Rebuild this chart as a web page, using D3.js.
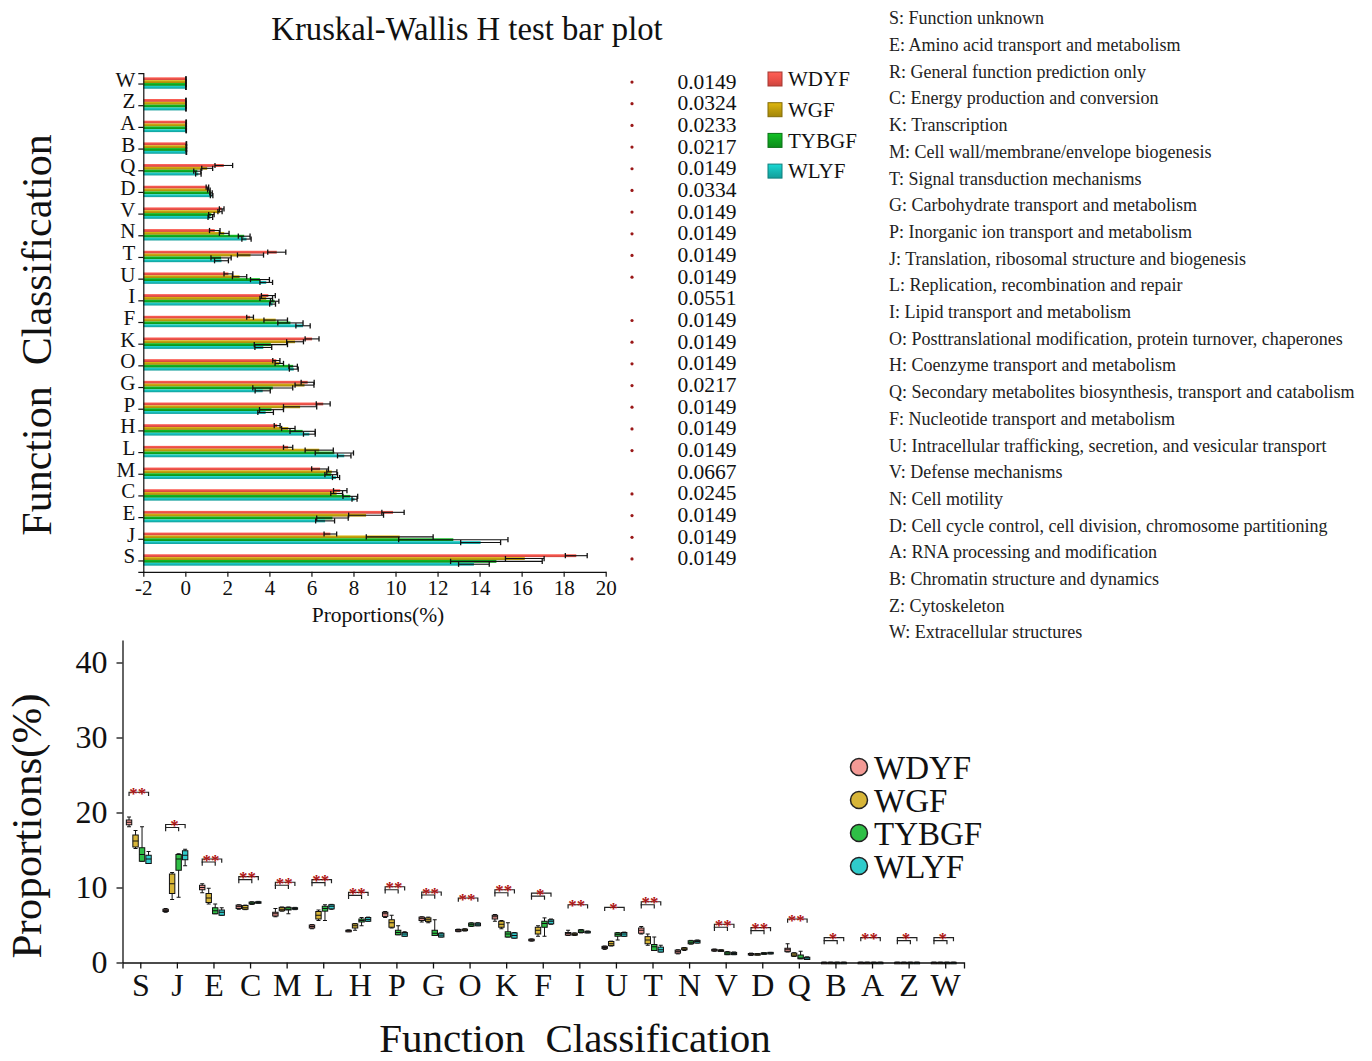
<!DOCTYPE html>
<html>
<head>
<meta charset="utf-8">
<script src="https://cdn.jsdelivr.net/npm/d3@7"></script>
<style>
  body { margin: 0; background: #fff; }
  svg { display: block; font-family: "Liberation Serif", "Times New Roman", serif; }
</style>
</head>
<body>
<svg id="chart" width="1372" height="1061"></svg>
<script>
// ---------- data ----------
const groups = ["WDYF", "WGF", "TYBGF", "WLYF"];

// Kruskal-Wallis bar plot (categories listed top to bottom)
const barCategories = ["W","Z","A","B","Q","D","V","N","T","U","I","F","K","O","G","P","H","L","M","C","E","J","S"];
const meanWDYF  = [0.03,0.03,0.04,0.05,1.83,1.05,1.73,1.40,4.35,2.05,3.95,3.08,6.03,4.33,5.82,6.56,4.37,4.89,6.41,7.37,9.88,6.90,18.60];
const meanWGF   = [0.03,0.03,0.04,0.05,1.04,1.12,1.65,1.85,3.10,2.58,3.85,4.30,5.22,4.47,5.67,5.46,4.90,6.37,6.97,7.20,8.60,10.20,16.15];
const meanTYBGF = [0.03,0.03,0.04,0.05,0.57,1.22,1.24,2.80,1.70,3.55,4.25,5.00,4.07,5.13,4.16,4.10,5.58,7.09,6.94,7.85,7.00,12.75,14.80];
const meanWLYF  = [0.03,0.03,0.04,0.05,0.62,1.25,1.19,2.91,1.72,3.85,4.15,5.60,3.71,5.16,3.68,3.82,5.90,7.56,7.17,8.05,6.65,14.05,13.73];
const sdWDYF    = [0.01,0.01,0.01,0.01,0.42,0.06,0.11,0.25,0.43,0.21,0.33,0.16,0.33,0.17,0.31,0.33,0.14,0.22,0.40,0.32,0.53,0.30,0.52];
const sdWGF     = [0.01,0.01,0.01,0.01,0.26,0.06,0.10,0.23,0.62,0.34,0.30,0.56,0.40,0.20,0.45,0.79,0.32,0.67,0.24,0.28,0.83,1.59,0.92];
const sdTYBGF   = [0.01,0.01,0.01,0.01,0.17,0.06,0.13,0.28,0.48,0.45,0.20,0.60,0.79,0.20,0.95,0.57,0.60,0.91,0.30,0.35,0.75,2.60,2.18];
const sdWLYF    = [0.01,0.01,0.01,0.01,0.13,0.06,0.11,0.22,0.33,0.30,0.14,0.34,0.40,0.21,0.36,0.37,0.28,0.32,0.17,0.12,0.45,0.95,0.73];
const pValues   = [0.0149,0.0324,0.0233,0.0217,0.0149,0.0334,0.0149,0.0149,0.0149,0.0149,0.0551,0.0149,0.0149,0.0149,0.0217,0.0149,0.0149,0.0149,0.0667,0.0245,0.0149,0.0149,0.0149];
const barTicks  = [-2,0,2,4,6,8,10,12,14,16,18,20];

// COG function descriptions
const cogDescriptions = [
  "S: Function unknown",
  "E: Amino acid transport and metabolism",
  "R: General function prediction only",
  "C: Energy production and conversion",
  "K: Transcription",
  "M: Cell wall/membrane/envelope biogenesis",
  "T: Signal transduction mechanisms",
  "G: Carbohydrate transport and metabolism",
  "P: Inorganic ion transport and metabolism",
  "J: Translation, ribosomal structure and biogenesis",
  "L: Replication, recombination and repair",
  "I: Lipid transport and metabolism",
  "O: Posttranslational modification, protein turnover, chaperones",
  "H: Coenzyme transport and metabolism",
  "Q: Secondary metabolites biosynthesis, transport and catabolism",
  "F: Nucleotide transport and metabolism",
  "U: Intracellular trafficking, secretion, and vesicular transport",
  "V: Defense mechanisms",
  "N: Cell motility",
  "D: Cell cycle control, cell division, chromosome partitioning",
  "A: RNA processing and modification",
  "B: Chromatin structure and dynamics",
  "Z: Cytoskeleton",
  "W: Extracellular structures"
];

// Box plot statistics: [min, q1, median, q3, max]
const boxCategories = ["S","J","E","C","M","L","H","P","G","O","K","F","I","U","T","N","V","D","Q","B","A","Z","W"];
const boxWDYF = [
  [18.1,18.36,18.7,19.0,19.4],[6.7,6.8,6.95,7.1,7.2],[9.3,9.7,10.0,10.3,10.5],[7.1,7.2,7.45,7.65,7.7],
  [6.1,6.2,6.5,6.7,7.2],[4.5,4.6,4.8,5.0,5.05],[4.1,4.15,4.25,4.3,4.35],[6.0,6.15,6.5,6.7,6.8],
  [5.4,5.6,5.85,6.05,6.1],[4.1,4.15,4.3,4.4,4.45],[5.5,5.8,6.1,6.3,6.4],[2.85,2.9,3.0,3.1,3.15],
  [3.6,3.65,3.85,4.0,4.3],[1.75,1.85,2.0,2.15,2.2],[3.8,3.9,4.3,4.6,4.8],[1.15,1.25,1.45,1.65,1.7],
  [1.5,1.55,1.65,1.75,1.8],[0.95,1.0,1.1,1.2,1.25],[1.4,1.45,1.7,1.9,2.5],[0.01,0.015,0.02,0.025,0.03],
  [0.01,0.015,0.02,0.025,0.03],[0.01,0.015,0.02,0.025,0.03],[0.01,0.015,0.02,0.025,0.03]
];
const boxWGF = [
  [15.2,15.4,16.2,17.0,17.6],[8.4,9.2,10.5,11.8,12.0],[7.8,8.0,8.6,9.2,9.9],[7.05,7.1,7.3,7.6,7.65],
  [6.85,6.9,7.1,7.35,7.4],[5.6,5.8,6.3,6.8,7.0],[4.3,4.6,4.9,5.15,5.2],[4.6,4.7,5.3,5.7,6.3],
  [5.3,5.45,5.7,5.95,6.05],[4.2,4.25,4.35,4.45,4.5],[4.5,4.7,5.1,5.5,5.6],[3.5,3.8,4.3,4.7,4.9],
  [3.6,3.65,3.75,3.9,3.95],[2.2,2.25,2.5,2.8,2.85],[2.3,2.5,3.0,3.45,3.8],[1.6,1.7,1.8,1.95,2.0],
  [1.5,1.52,1.6,1.68,1.7],[1.0,1.02,1.1,1.18,1.2],[0.8,0.85,1.0,1.25,1.3],[0.01,0.015,0.02,0.025,0.03],
  [0.01,0.015,0.02,0.025,0.03],[0.01,0.015,0.02,0.025,0.03],[0.01,0.015,0.02,0.025,0.03]
];
const boxTYBGF = [
  [13.5,13.5,14.4,15.3,18.1],[8.7,12.3,13.8,14.4,14.5],[6.5,6.5,6.9,7.3,7.8],[7.75,7.8,7.9,8.05,8.1],
  [6.5,7.0,7.1,7.35,7.4],[5.6,6.85,7.2,7.5,7.7],[4.9,5.4,5.6,5.8,6.0],[3.7,3.7,4.0,4.3,4.9],
  [3.6,3.6,3.9,4.3,5.7],[4.8,4.85,5.05,5.25,5.3],[3.4,3.4,3.8,4.1,5.3],[3.5,4.7,5.2,5.5,5.95],
  [3.95,4.0,4.2,4.35,4.4],[3.0,3.5,3.75,3.95,4.0],[1.6,1.6,2.1,2.4,3.4],[2.45,2.5,2.7,2.9,2.95],
  [1.05,1.05,1.25,1.4,1.45],[1.1,1.1,1.2,1.3,1.3],[0.5,0.5,0.6,1.0,1.5],[0.01,0.015,0.02,0.025,0.03],
  [0.01,0.015,0.02,0.025,0.03],[0.01,0.015,0.02,0.025,0.03],[0.01,0.015,0.02,0.025,0.03]
];
const boxWLYF = [
  [13.2,13.2,13.8,14.3,14.8],[12.9,13.7,14.3,14.9,15.1],[6.3,6.3,6.7,7.0,7.3],[7.9,7.9,8.0,8.1,8.15],
  [7.05,7.1,7.2,7.3,7.35],[7.1,7.15,7.5,7.7,7.75],[5.5,5.5,5.75,6.0,6.05],[3.5,3.5,3.8,4.0,4.1],
  [3.4,3.4,3.65,3.9,3.95],[4.9,4.9,5.1,5.25,5.3],[3.25,3.25,3.6,3.95,4.0],[5.1,5.15,5.5,5.7,5.8],
  [3.95,3.95,4.05,4.15,4.2],[3.5,3.5,3.8,4.0,4.05],[1.4,1.4,1.7,2.05,2.3],[2.6,2.6,2.8,2.95,3.0],
  [1.05,1.05,1.2,1.35,1.4],[1.15,1.15,1.25,1.35,1.35],[0.4,0.4,0.6,0.7,0.75],[0.01,0.015,0.02,0.025,0.03],
  [0.01,0.015,0.02,0.025,0.03],[0.01,0.015,0.02,0.025,0.03],[0.01,0.015,0.02,0.025,0.03]
];
// significance marks and bracket style per category ("double" = with nested pair bracket)
const sigStars    = ["**","*","**","**","**","**","**","**","**","**","**","*","**","*","**","","**","**","**","*","**","*","*"];
const bracketKind = ["single","double","double","double","double","double","double","double","double","single","double","double","single","single","double","none","double","double","single","double","single","double","double"];
const boxTicks = [0,10,20,30,40];

// ---------- drawing ----------
const svg = d3.select("#chart");
const defs = svg.append("defs");
const INK = "#111";

const barColors = { WDYF: "#ea5048", WGF: "#bb9a0c", TYBGF: "#0fa31f", WLYF: "#16b6b2" };
const boxColors = { WDYF: "#f39a95", WGF: "#d7b538", TYBGF: "#2fbf46", WLYF: "#30cbcb" };

groups.forEach(g => {
  const base = d3.color(barColors[g]);
  const grad = defs.append("linearGradient")
    .attr("id", "grad-" + g).attr("x1", 0).attr("y1", 0).attr("x2", 0).attr("y2", 1);
  grad.append("stop").attr("offset", "0%").attr("stop-color", base.brighter(0.5));
  grad.append("stop").attr("offset", "55%").attr("stop-color", base);
  grad.append("stop").attr("offset", "100%").attr("stop-color", base.darker(0.4));
});

// style an axis group: serif labels of a given size, dark strokes
function styleAxis(g, fontSize, strokeWidth) {
  g.attr("font-family", null).attr("font-size", null);
  g.selectAll("text").attr("font-size", fontSize).attr("fill", INK);
  g.selectAll("path,line").attr("stroke", INK).attr("stroke-width", strokeWidth);
}

// ===== Top: Kruskal-Wallis bar plot =====
const barMeans = { WDYF: meanWDYF, WGF: meanWGF, TYBGF: meanTYBGF, WLYF: meanWLYF };
const barSds = { WDYF: sdWDYF, WGF: sdWGF, TYBGF: sdTYBGF, WLYF: sdWLYF };

const xBar = d3.scaleLinear().domain([-2, 20]).range([143.3, 605.7]);
const yBar = d3.scaleBand().domain(barCategories).range([73.2, 571.8]);
const subBar = d3.scaleBand().domain(groups).range([-6.7, 4.7]);
const rowCenter = c => yBar(c) + yBar.bandwidth() / 2;

svg.append("text")
  .attr("x", 467).attr("y", 40).attr("text-anchor", "middle")
  .attr("font-size", 32.7).attr("fill", INK).text("Kruskal-Wallis H test bar plot");

const barG = svg.append("g");
barCategories.forEach((c, i) => {
  groups.forEach(g => {
    const y0 = rowCenter(c) + subBar(g);
    barG.append("rect")
      .attr("x", xBar(-2)).attr("y", y0)
      .attr("width", xBar(barMeans[g][i]) - xBar(-2))
      .attr("height", subBar.bandwidth())
      .attr("fill", `url(#grad-${g})`);
  });
});
// error bars (mean ± sd)
barCategories.forEach((c, i) => {
  groups.forEach(g => {
    const yc = rowCenter(c) + subBar(g) + subBar.bandwidth() / 2;
    const m = barMeans[g][i], s = barSds[g][i];
    const x1 = xBar(m - s), x2 = xBar(m + s);
    barG.append("line").attr("x1", x1).attr("x2", x2).attr("y1", yc).attr("y2", yc)
      .attr("stroke", INK).attr("stroke-width", 1.1);
    [x1, x2].forEach(x => barG.append("line")
      .attr("x1", x).attr("x2", x).attr("y1", yc - 2.6).attr("y2", yc + 2.6)
      .attr("stroke", INK).attr("stroke-width", 1.3));
  });
});

const axLeft = svg.append("g").attr("transform", "translate(143.3,0)")
  .call(d3.axisLeft(yBar).tickSize(5).tickSizeOuter(5).tickPadding(3));
styleAxis(axLeft, 21, 1.2);
axLeft.selectAll("text").attr("dy", "0.12em");
const axBottom = svg.append("g").attr("transform", "translate(0,571.8)")
  .call(d3.axisBottom(xBar).tickValues(barTicks).tickFormat(d => String(d)).tickSize(5).tickSizeOuter(0).tickPadding(3));
styleAxis(axBottom, 21, 1.2);

svg.append("text").attr("x", 378).attr("y", 622).attr("text-anchor", "middle")
  .attr("font-size", 21.5).attr("fill", INK).text("Proportions(%)");
svg.append("text").attr("transform", "translate(51,335) rotate(-90)")
  .attr("text-anchor", "middle").attr("font-size", 42).attr("fill", INK)
  .text("Function\u00a0\u00a0Classification");

// p-values and significance dots
barCategories.forEach((c, i) => {
  const yc = rowCenter(c) - 3;
  svg.append("text").attr("x", 707).attr("y", yc).attr("dy", "0.35em")
    .attr("text-anchor", "middle").attr("font-size", 21.5).attr("fill", INK).text(pValues[i].toFixed(4));
  if (pValues[i] < 0.05) {
    svg.append("circle").attr("cx", 632).attr("cy", yc + 1).attr("r", 1.6).attr("fill", "#9a1818");
  }
});

// top legend
groups.forEach((g, i) => {
  const yc = 79 + i * 30.7;
  svg.append("rect").attr("x", 768).attr("y", yc - 7).attr("width", 14).attr("height", 14)
    .attr("fill", `url(#grad-${g})`).attr("stroke", d3.color(barColors[g]).darker(1)).attr("stroke-width", 1);
  svg.append("text").attr("x", 788).attr("y", yc).attr("dy", "0.35em")
    .attr("font-size", 21).attr("fill", INK).text(g);
});

// descriptions list
cogDescriptions.forEach((t, i) => {
  svg.append("text").attr("x", 889).attr("y", 18 + i * 26.7).attr("dy", "0.35em")
    .attr("font-size", 18).attr("fill", "#222").text(t);
});

// ===== Bottom: box plots =====
const boxData = { WDYF: boxWDYF, WGF: boxWGF, TYBGF: boxTYBGF, WLYF: boxWLYF };
const xBox = d3.scaleBand().domain(boxCategories).range([122.5, 964]);
const yBox = d3.scaleLinear().domain([0, 43]).range([962.5, 640]);
const subBox = d3.scaleBand().domain(groups).range([-15, 11]);
const boxW = 5.4;
const boxX = (c, g) => xBox(c) + xBox.bandwidth() / 2 + subBox(g) + subBox.bandwidth() / 2;

const boxG = svg.append("g");
boxCategories.forEach((c, i) => {
  groups.forEach(g => {
    const [mn, q1, md, q3, mx] = boxData[g][i];
    const cx = boxX(c, g);
    boxG.append("line").attr("x1", cx).attr("x2", cx).attr("y1", yBox(mx)).attr("y2", yBox(mn))
      .attr("stroke", INK).attr("stroke-width", 1);
    [mn, mx].forEach(v => boxG.append("line")
      .attr("x1", cx - 2).attr("x2", cx + 2).attr("y1", yBox(v)).attr("y2", yBox(v))
      .attr("stroke", INK).attr("stroke-width", 1));
    const h = Math.max(yBox(q1) - yBox(q3), 1.5);
    boxG.append("rect").attr("x", cx - boxW / 2).attr("y", yBox(q3)).attr("width", boxW).attr("height", h)
      .attr("fill", boxColors[g]).attr("stroke", INK).attr("stroke-width", 1);
    boxG.append("line").attr("x1", cx - boxW / 2).attr("x2", cx + boxW / 2)
      .attr("y1", yBox(md)).attr("y2", yBox(md)).attr("stroke", INK).attr("stroke-width", 1);
  });
});

// significance brackets
boxCategories.forEach((c, i) => {
  if (bracketKind[i] === "none") return;
  const top = d3.max(groups, g => boxData[g][i][4]);
  const yb = yBox(top + 3.3);
  const xa = boxX(c, groups[0]), xd = boxX(c, groups[3]), xc = boxX(c, groups[2]);
  const drawBracket = (x1, x2, y) => boxG.append("path")
    .attr("d", `M${x1},${y + 3.7}V${y}H${x2}V${y + 3.7}`)
    .attr("fill", "none").attr("stroke", "#222").attr("stroke-width", 1.2);
  drawBracket(xa, xd, yb);
  if (bracketKind[i] === "double") drawBracket(xa, xc, yb + 3);
  svg.append("text").attr("x", (xa + xd) / 2 - 1).attr("y", yb + 6.5)
    .attr("text-anchor", "middle").attr("font-size", 17).attr("font-weight", "bold")
    .attr("fill", "#b01515").text(sigStars[i]);
});

const axBoxY = svg.append("g").attr("transform", `translate(${xBox.range()[0]},0)`)
  .call(d3.axisLeft(yBox).tickValues(boxTicks).tickSize(6).tickSizeOuter(0).tickPadding(9));
styleAxis(axBoxY, 32, 1.3);
const axBoxX = svg.append("g").attr("transform", `translate(0,${yBox(0)})`)
  .call(d3.axisBottom(xBox).tickSize(6).tickSizeOuter(6).tickPadding(5));
styleAxis(axBoxX, 32, 1.3);

svg.append("text").attr("transform", "translate(41,826) rotate(-90)")
  .attr("text-anchor", "middle").attr("font-size", 43).attr("fill", INK).text("Proportions(%)");
svg.append("text").attr("x", 575).attr("y", 1052).attr("text-anchor", "middle")
  .attr("font-size", 41).attr("fill", INK).text("Function\u00a0\u00a0Classification");

// bottom legend
groups.forEach((g, i) => {
  const yc = 767 + i * 33;
  svg.append("circle").attr("cx", 859).attr("cy", yc).attr("r", 8.5)
    .attr("fill", boxColors[g]).attr("stroke", "#222").attr("stroke-width", 1.5);
  svg.append("text").attr("x", 874).attr("y", yc).attr("dy", "0.35em")
    .attr("font-size", 33).attr("fill", INK).text(g);
});
</script>
</body>
</html>
